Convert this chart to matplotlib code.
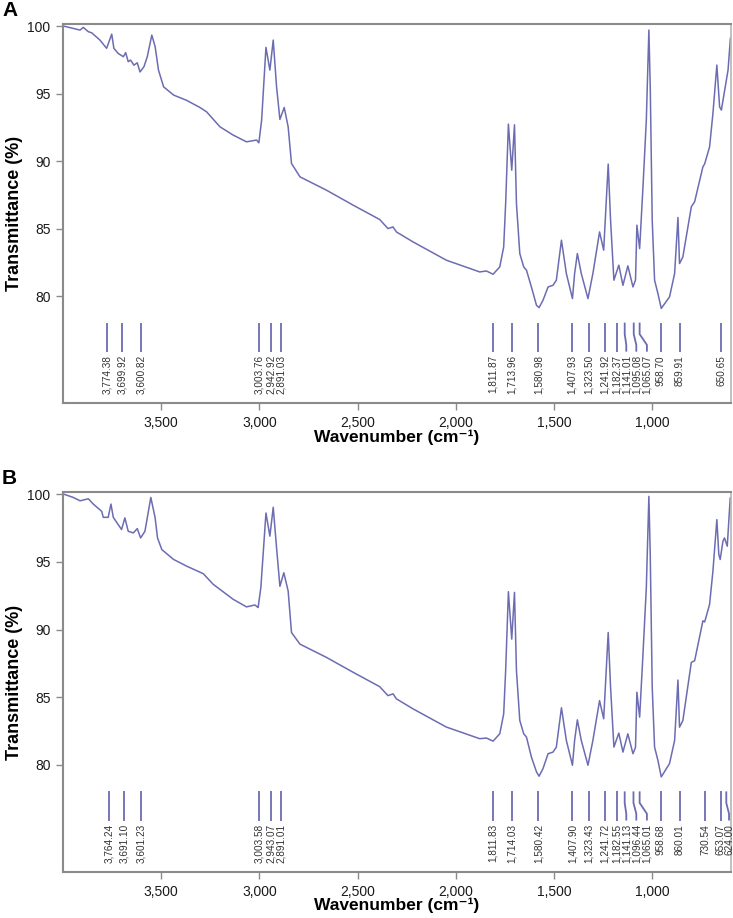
import matplotlib
matplotlib.use("Agg")
import matplotlib.pyplot as plt
from matplotlib.ticker import FuncFormatter

plt.rcParams['font.family'] = ['Liberation Sans', 'DejaVu Sans']

# ---------------- data: panel A ----------------
wn_A = [3998, 3913, 3897, 3871, 3854, 3812, 3778, 3752, 3741, 3719,
        3693, 3681, 3668, 3656, 3639, 3622, 3608, 3588, 3571, 3548,
        3531, 3514, 3488, 3437, 3371, 3303, 3269, 3201, 3134, 3066,
        3015, 3003, 2989, 2967, 2947, 2930, 2913, 2896, 2874, 2854,
        2837, 2794, 2659, 2523, 2388, 2346, 2320, 2303, 2218, 2049,
        1879, 1845, 1811, 1777, 1757, 1747, 1733, 1716, 1702, 1692,
        1675, 1655, 1641, 1616, 1590, 1577, 1557, 1531, 1506, 1489,
        1463, 1438, 1407, 1396, 1382, 1362, 1328, 1303, 1269, 1248,
        1225, 1213, 1196, 1171, 1150, 1125, 1099, 1086, 1079, 1065,
        1048, 1031, 1018, 1011, 1001, 989, 972, 955, 913, 887,
        870, 862, 845, 802, 785, 743, 734, 709, 692, 672,
        658, 649, 632, 615, 603]
T_A = [100.0, 99.7, 99.9, 99.58, 99.5, 98.96, 98.35, 99.4, 98.35, 97.97,
       97.73, 98.03, 97.36, 97.48, 97.1, 97.28, 96.6, 96.99, 97.73, 99.33,
       98.47, 96.74, 95.5, 94.89, 94.5, 93.97, 93.65, 92.54, 91.93, 91.43,
       91.56, 91.36, 93.04, 98.42, 96.74, 98.96, 95.5, 93.09, 93.97, 92.54,
       89.83, 88.84, 87.85, 86.74, 85.68, 85.01, 85.13, 84.76, 84.02, 82.67,
       81.8, 81.87, 81.63, 82.17, 83.65, 86.86, 92.74, 89.33, 92.69, 86.86,
       83.16, 82.17, 81.93, 80.69, 79.33, 79.16, 79.7, 80.69, 80.81, 81.19,
       84.15, 81.68, 79.83, 81.68, 83.16, 81.68, 79.83, 81.68, 84.76, 83.41,
       89.78, 85.63, 81.19, 82.3, 80.81, 82.25, 80.69, 81.2, 85.26, 83.53,
       88.1, 93.04, 99.7, 95.5, 85.63, 81.19, 80.2, 79.1, 79.95, 81.68,
       85.83, 82.42, 82.91, 86.62, 87.0, 89.58, 89.8, 91.06, 93.53, 97.11,
       94.02, 93.78, 95.26, 96.74, 99.09]

peaks_A = [3774.38, 3699.92, 3600.82, 3003.76, 2942.92, 2891.03, 1811.87,
           1713.96, 1580.98, 1407.93, 1323.50, 1241.92, 1182.37, 1141.01,
           1095.08, 1065.07, 958.70, 859.91, 650.65]
labels_A = ["3,774.38", "3,699.92", "3,600.82", "3,003.76", "2,942.92",
            "2,891.03", "1,811.87", "1,713.96", "1,580.98", "1,407.93",
            "1,323.50", "1,241.92", "1,182.37", "1,141.01", "1,095.08",
            "1,065.07", "958.70", "859.91", "650.65"]
labelpos_A = [3774.38, 3699.92, 3600.82, 3003.76, 2942.92, 2891.03, 1811.87,
              1713.96, 1580.98, 1407.93, 1323.50, 1241.92, 1182.37, 1133,
              1082, 1028, 958.70, 859.91, 650.65]

# ---------------- data: panel B ----------------
wn_B = [3998, 3948, 3913, 3871, 3846, 3803, 3795, 3770, 3756, 3744,
        3702, 3685, 3668, 3642, 3622, 3605, 3583, 3553, 3531, 3519,
        3497, 3437, 3371, 3286, 3235, 3134, 3066, 3023, 3007, 2993,
        2967, 2947, 2930, 2913, 2896, 2876, 2854, 2837, 2794, 2659,
        2523, 2388, 2346, 2320, 2303, 2218, 2049, 1879, 1845, 1811,
        1777, 1757, 1747, 1733, 1716, 1702, 1692, 1675, 1655, 1641,
        1616, 1590, 1577, 1557, 1531, 1506, 1489, 1463, 1438, 1407,
        1396, 1382, 1362, 1328, 1303, 1269, 1248, 1225, 1213, 1196,
        1171, 1150, 1125, 1099, 1086, 1079, 1065, 1048, 1031, 1018,
        1011, 1001, 989, 972, 955, 913, 887, 870, 862, 845,
        802, 785, 743, 734, 709, 692, 672, 662, 655, 641,
        633, 619, 604]
T_B = [100.0, 99.75, 99.5, 99.65, 99.26, 98.72, 98.28, 98.28, 99.26, 98.28,
       97.38, 98.24, 97.25, 97.13, 97.45, 96.76, 97.25, 99.75, 98.24, 96.76,
       95.9, 95.17, 94.68, 94.12, 93.33, 92.23, 91.67, 91.81, 91.62, 93.09,
       98.6, 96.89, 99.02, 96.03, 93.19, 94.19, 92.84, 89.78, 88.92, 87.94,
       86.84, 85.78, 85.12, 85.25, 84.88, 84.14, 82.8, 81.94, 81.99, 81.76,
       82.3, 83.77, 86.96, 92.79, 89.29, 92.74, 86.96, 83.28, 82.3, 82.06,
       80.59, 79.49, 79.17, 79.73, 80.83, 80.95, 81.32, 84.22, 81.81, 79.98,
       81.81, 83.33, 81.81, 79.98, 81.81, 84.75, 83.41, 89.78, 85.74, 81.32,
       82.35, 80.95, 82.3, 80.83, 81.3, 85.37, 83.53, 88.19, 93.09, 99.83,
       95.54, 85.74, 81.32, 80.34, 79.12, 80.1, 81.81, 86.27, 82.79, 83.28,
       87.57, 87.7, 90.64, 90.56, 91.86, 94.31, 98.11, 95.54, 95.17, 96.52,
       96.76, 96.15, 99.7]

peaks_B = [3764.24, 3691.10, 3601.23, 3003.58, 2943.07, 2891.01, 1811.83,
           1714.03, 1580.42, 1407.90, 1323.43, 1241.72, 1182.55, 1141.13,
           1096.44, 1065.01, 958.68, 860.01, 730.54, 653.07, 624.00]
labels_B = ["3,764.24", "3,691.10", "3,601.23", "3,003.58", "2,943.07",
            "2,891.01", "1,811.83", "1,714.03", "1,580.42", "1,407.90",
            "1,323.43", "1,241.72", "1,182.55", "1,141.13", "1,096.44",
            "1,065.01", "958.68", "860.01", "730.54", "653.07", "624.00"]
labelpos_B = [3764.24, 3691.10, 3601.23, 3003.58, 2943.07, 2891.01, 1811.83,
              1714.03, 1580.42, 1407.90, 1323.43, 1241.72, 1182.55, 1133,
              1082, 1028, 958.68, 860.01, 730.54, 653.07, 610]

x_ticks = [3500, 3000, 2500, 2000, 1500, 1000]
y_ticks = [80, 85, 90, 95, 100]

LINE = '#6c6cb2'
SPINE = '#8a8a8a'

fig = plt.figure(figsize=(7.33, 9.18), dpi=100)
axA = fig.add_axes([63/733, 1-403/918, 668/733, 379/918])
axB = fig.add_axes([63/733, 1-872/918, 668/733, 380/918])


def draw(ax, wn, T, peaks, labels, lpos, xlab_y):
    ax.plot(wn, T, color=LINE, lw=1.1)
    for p, lab, lp in zip(peaks, labels, lpos):
        if abs(p - lp) < 1:
            ax.plot([p, p], [78.05, 75.9], color=LINE, lw=1.3,
                    solid_capstyle='butt')
        else:
            ax.plot([p, p, lp, lp], [78.05, 77.2, 76.4, 75.9], color=LINE,
                    lw=1.3, solid_capstyle='butt', clip_on=False)
        ax.text(lp, 75.65, lab, rotation=90, ha='center', va='top',
                fontsize=7.2, color='#333333', clip_on=False)
    ax.set_xlim(4000, 600)
    ax.set_ylim(72.1, 100.15)
    ax.set_xticks(x_ticks)
    ax.xaxis.set_major_formatter(FuncFormatter(lambda v, _: f"{int(v):,}"))
    ax.set_yticks(y_ticks)
    for s in ['left', 'bottom', 'top']:
        ax.spines[s].set_color(SPINE)
        ax.spines[s].set_linewidth(1.5)
    ax.spines['right'].set_color('#b5b5b5')
    ax.spines['right'].set_linewidth(1.2)
    ax.tick_params(axis='both', direction='out', length=5, width=1,
                   color=SPINE, labelsize=10, labelcolor='#1a1a1a', pad=4)
    ax.set_xlabel('Wavenumber (cm\u207b\u00b9)', fontsize=12.5,
                  fontweight='bold')
    ax.xaxis.label.set_va('top')
    ax.xaxis.set_label_coords(0.5, xlab_y)
    ax.set_ylabel('Transmittance (%)', fontsize=13, fontweight='bold')
    ax.yaxis.set_label_coords(-0.06, 0.5)


draw(axA, wn_A, T_A, peaks_A, labels_A, labelpos_A, -0.0712)
draw(axB, wn_B, T_B, peaks_B, labels_B, labelpos_B, -0.0671)

fig.text(2/733, 1-10.5/918, 'A', fontsize=15, fontweight='bold', va='center')
fig.text(2/733, 1-479/918, 'B', fontsize=15, fontweight='bold', va='center')

fig.savefig('out.png', dpi=100)
